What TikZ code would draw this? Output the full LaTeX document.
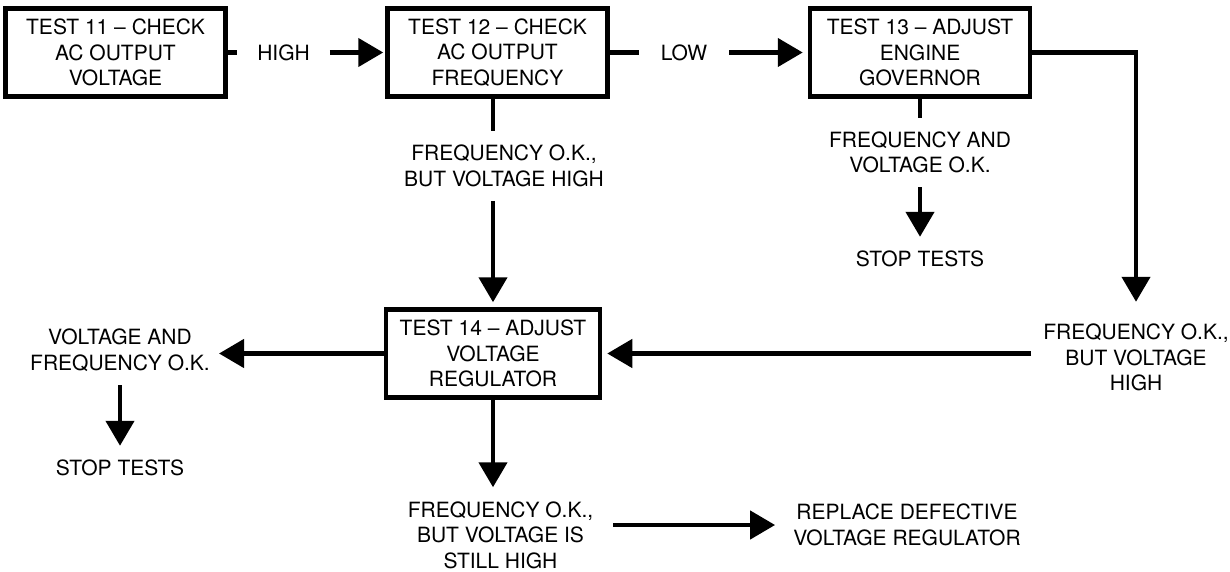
\documentclass[tikz,border=0pt]{standalone}
\usepackage{fontspec}
\setmainfont{TeX Gyre Heros}
\usetikzlibrary{arrows.meta}

\begin{document}
\begin{tikzpicture}[x=1pt,y=-1pt,
  box/.style={draw,line width=4.5pt,minimum width=220pt,minimum height=88pt,
    align=center,inner sep=0pt,font=\fontsize{21}{25.5}\selectfont},
  lbl/.style={align=center,inner xsep=20pt,inner ysep=14pt,
    font=\fontsize{21}{25.5}\selectfont},
  link/.style={line width=4.5pt},
  arr/.style={link,-{Triangle[length=25pt,width=28pt]}},
  tobox/.style={shorten >=5pt}]
  \useasboundingbox (0,0) rectangle (1230,572);

  % test boxes
  \node[box] (t11) at (115.5,52.5) {TEST 11 – CHECK\\AC OUTPUT\\VOLTAGE};
  \node[box] (t12) at (497.5,52.5) {TEST 12 – CHECK\\AC OUTPUT\\FREQUENCY};
  \node[box] (t13) at (920,52.5) {TEST 13 – ADJUST\\ENGINE\\GOVERNOR};
  \node[box,minimum width=214pt] (t14) at (493,353.5) {TEST 14 – ADJUST\\VOLTAGE\\REGULATOR};

  % outcomes
  \node[lbl] (high) at (283.5,52.5) {HIGH};
  \node[lbl,inner xsep=22pt] (low) at (684,52.5) {LOW};
  \node[lbl] (ok12) at (504,166) {FREQUENCY O.K.,\\BUT VOLTAGE HIGH};
  \node[lbl] (ok13) at (920,152.5) {FREQUENCY AND\\VOLTAGE O.K.};
  \node[lbl] (stop13) at (920,259) {STOP TESTS};
  \node[lbl,inner xsep=12pt,inner ysep=22pt] (hi13) at (1136,357.5) {FREQUENCY O.K.,\\BUT VOLTAGE\\HIGH};
  \node[lbl,inner xsep=9pt] (ok14l) at (120,350) {VOLTAGE AND\\FREQUENCY O.K.};
  \node[lbl] (stop14) at (120,468) {STOP TESTS};
  \node[lbl] (ok14b) at (500.5,535) {FREQUENCY O.K.,\\BUT VOLTAGE IS\\STILL HIGH};
  \node[lbl,inner xsep=18pt] (repl) at (907,525) {REPLACE DEFECTIVE\\VOLTAGE REGULATOR};

  % connectors
  \draw[link] (t11.east) -- (high.west);
  \draw[arr,shorten >=2pt] (high.east) -- (t12.west);
  \draw[link] (t12.east) -- (low.west);
  \draw[arr,tobox] (low.east) -- (t13.west);
  \draw[link] (t12.south -| t14.north) -- (ok12.north -| t14.north);
  \draw[arr,tobox] (ok12.south -| t14.north) -- (t14.north);
  \draw[link] (t13.south) -- (ok13.north);
  \draw[arr] (ok13.south) -- (stop13.north);
  \draw[arr] (t13.east) -| (hi13.north);
  \draw[arr,tobox] (hi13.west |- t14.east) -- (t14.east);
  \draw[arr] (t14.west) -- (ok14l.east |- t14.west);
  \draw[arr] (ok14l.south) -- (stop14.north);
  \draw[arr] (t14.south) -- (ok14b.north -| t14.south);
  \draw[arr] (ok14b.east |- repl.west) -- (repl.west);
\end{tikzpicture}
\end{document}
